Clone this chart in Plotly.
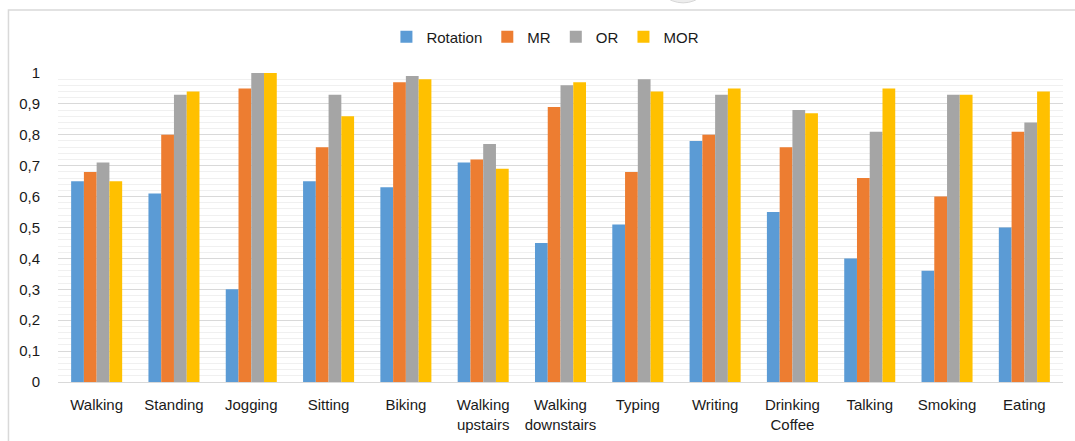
import plotly.graph_objects as go

activities = ["Walking", "Standing", "Jogging", "Sitting", "Biking",
              "Walking<br>upstairs", "Walking<br>downstairs", "Typing", "Writing",
              "Drinking<br>Coffee", "Talking", "Smoking", "Eating"]

rotation = [0.65, 0.61, 0.30, 0.65, 0.63, 0.71, 0.45, 0.51, 0.78, 0.55, 0.40, 0.36, 0.50]
mr       = [0.68, 0.80, 0.95, 0.76, 0.97, 0.72, 0.89, 0.68, 0.80, 0.76, 0.66, 0.60, 0.81]
or_vals  = [0.71, 0.93, 1.00, 0.93, 0.99, 0.77, 0.96, 0.98, 0.93, 0.88, 0.81, 0.93, 0.84]
mor      = [0.65, 0.94, 1.00, 0.86, 0.98, 0.69, 0.97, 0.94, 0.95, 0.87, 0.95, 0.93, 0.94]

tick_vals = [0, 0.1, 0.2, 0.3, 0.4, 0.5, 0.6, 0.7, 0.8, 0.9, 1.0]
tick_text = ["0", "0,1", "0,2", "0,3", "0,4", "0,5", "0,6", "0,7", "0,8", "0,9", "1"]

series = [("Rotation", rotation, "#5B9BD5"),
          ("MR", mr, "#ED7D31"),
          ("OR", or_vals, "#A5A5A5"),
          ("MOR", mor, "#FFC000")]

font_family = "Liberation Sans, Arial"

fig = go.Figure()
for name, vals, color in series:
    fig.add_trace(go.Bar(name=name, x=activities, y=vals, marker_color=color,
                         marker_line_width=0))

fig.update_layout(
    width=1075, height=441,
    margin=dict(l=58, r=12, t=73, b=59, autoexpand=False),
    paper_bgcolor="white", plot_bgcolor="white",
    barmode="group", bargap=0.34, bargroupgap=0,
    font=dict(family=font_family, size=15, color="#1a1a1a"),
    legend=dict(orientation="h", x=0.485, xanchor="center", y=1.1165, yanchor="middle",
                font=dict(size=15, color="#1a1a1a"), itemwidth=30,
                bgcolor="rgba(0,0,0,0)", traceorder="normal"),
    xaxis=dict(showgrid=False, showline=True, linecolor="#D9D9D9", linewidth=1,
               ticks="", tickfont=dict(size=15), tickangle=0, ticklabelstandoff=9),
    yaxis=dict(range=[0, 1.0], tickvals=tick_vals, ticktext=tick_text,
               showgrid=True, gridcolor="#D9D9D9", gridwidth=1,
               zeroline=False, showline=False, ticks="", ticklabelstandoff=17,
               tickfont=dict(size=15),
               minor=dict(dtick=0.02, showgrid=True, gridcolor="#F0F0F0", gridwidth=1)),
    shapes=[
        # chart frame
        dict(type="rect", xref="paper", yref="paper",
             x0=-0.0493, x1=1.3, y0=-0.6, y1=1.204,
             line=dict(color="#D9D9D9", width=1.5), fillcolor="rgba(0,0,0,0)",
             layer="below"),
        # grey disc above the frame
        dict(type="circle", xref="paper", yref="paper",
             x0=0.594, x1=0.650, y0=1.227, y1=1.40,
             line=dict(color="#D6D6D6", width=1), fillcolor="#EDEDED",
             layer="below"),
    ],
)

fig.write_html("out.html")
